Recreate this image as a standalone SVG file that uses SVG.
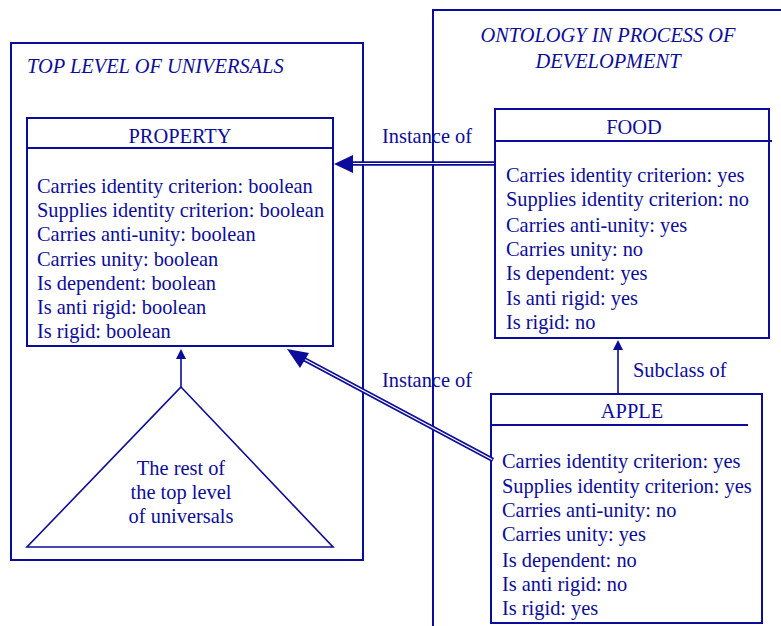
<svg xmlns="http://www.w3.org/2000/svg" width="781" height="626" viewBox="0 0 781 626" font-family="'Liberation Serif', 'Times New Roman', serif" font-size="20.4">
<style>
text{fill:#0c0c9c}
.it{font-style:italic}
.c{text-anchor:middle}
.b{fill:none;stroke:#0c0c9c;stroke-width:2}
.t{fill:none;stroke:#0c0c9c;stroke-width:1.6}
.dbl{fill:none;stroke:#0c0c9c;stroke-width:4.5}
.gap{fill:none;stroke:#fff;stroke-width:1.2}
.head{fill:#0c0c9c}
</style>
<rect width="781" height="626" fill="#fff"/>
<g id="top-level">
<rect class="b" x="11" y="43" width="352" height="517"/>
<text class="it" x="27" y="73">TOP LEVEL OF UNIVERSALS</text>
</g>
<g id="ontology">
<path class="b" d="M433 626V10H781"/>
<text class="it c" x="608" y="42">ONTOLOGY IN PROCESS OF</text>
<text class="it c" x="608" y="68">DEVELOPMENT</text>
</g>
<g id="property">
<rect class="b" x="27" y="118" width="306" height="228"/>
<line class="b" x1="27" y1="148" x2="333" y2="148"/>
<text class="c" x="180" y="143">PROPERTY</text>
<text x="37" y="193">Carries identity criterion: boolean</text>
<text x="37" y="217">Supplies identity criterion: boolean</text>
<text x="37" y="241">Carries anti-unity: boolean</text>
<text x="37" y="266">Carries unity: boolean</text>
<text x="37" y="290">Is dependent: boolean</text>
<text x="37" y="314">Is anti rigid: boolean</text>
<text x="37" y="338">Is rigid: boolean</text>
</g>
<g id="rest">
<polygon class="t" points="181,387 333,547 27,547"/>
<text class="c" x="181" y="475">The rest of</text>
<text class="c" x="181" y="499">the top level</text>
<text class="c" x="181" y="523">of universals</text>
</g>
<g id="food">
<rect class="b" x="495" y="109" width="274" height="229"/>
<line class="b" x1="495" y1="141" x2="772" y2="141"/>
<text class="c" x="634" y="134">FOOD</text>
<text x="506" y="182">Carries identity criterion: yes</text>
<text x="506" y="206">Supplies identity criterion: no</text>
<text x="506" y="232">Carries anti-unity: yes</text>
<text x="506" y="256">Carries unity: no</text>
<text x="506" y="280">Is dependent: yes</text>
<text x="506" y="305">Is anti rigid: yes</text>
<text x="506" y="329">Is rigid: no</text>
</g>
<g id="apple">
<rect class="b" x="491" y="394" width="271" height="229"/>
<line class="b" x1="491" y1="425" x2="748" y2="425"/>
<text class="c" x="632" y="418">APPLE</text>
<text x="502" y="468">Carries identity criterion: yes</text>
<text x="502" y="493">Supplies identity criterion: yes</text>
<text x="502" y="517">Carries anti-unity: no</text>
<text x="502" y="541">Carries unity: yes</text>
<text x="502" y="567">Is dependent: no</text>
<text x="502" y="591">Is anti rigid: no</text>
<text x="502" y="615">Is rigid: yes</text>
</g>
<g id="connectors">
<line class="dbl" x1="350" y1="163.5" x2="495" y2="163.5"/>
<line class="gap" x1="350" y1="163.5" x2="494" y2="163.5"/>
<polygon class="head" points="334,164 353,155 353,173"/>
<text x="382" y="143">Instance of</text>
<line class="dbl" x1="300" y1="357" x2="493" y2="460"/>
<line class="gap" x1="302" y1="358" x2="492" y2="459.5"/>
<polygon class="head" points="287,349 309,353 300,368"/>
<text x="382" y="387">Instance of</text>
<line class="t" x1="618" y1="394" x2="618" y2="348"/>
<polygon class="head" points="618,340 613,350 623,350"/>
<text x="633" y="377">Subclass of</text>
<line class="t" x1="181" y1="387" x2="181" y2="357"/>
<polygon class="head" points="181,349 176,359 186,359"/>
</g>
</svg>
